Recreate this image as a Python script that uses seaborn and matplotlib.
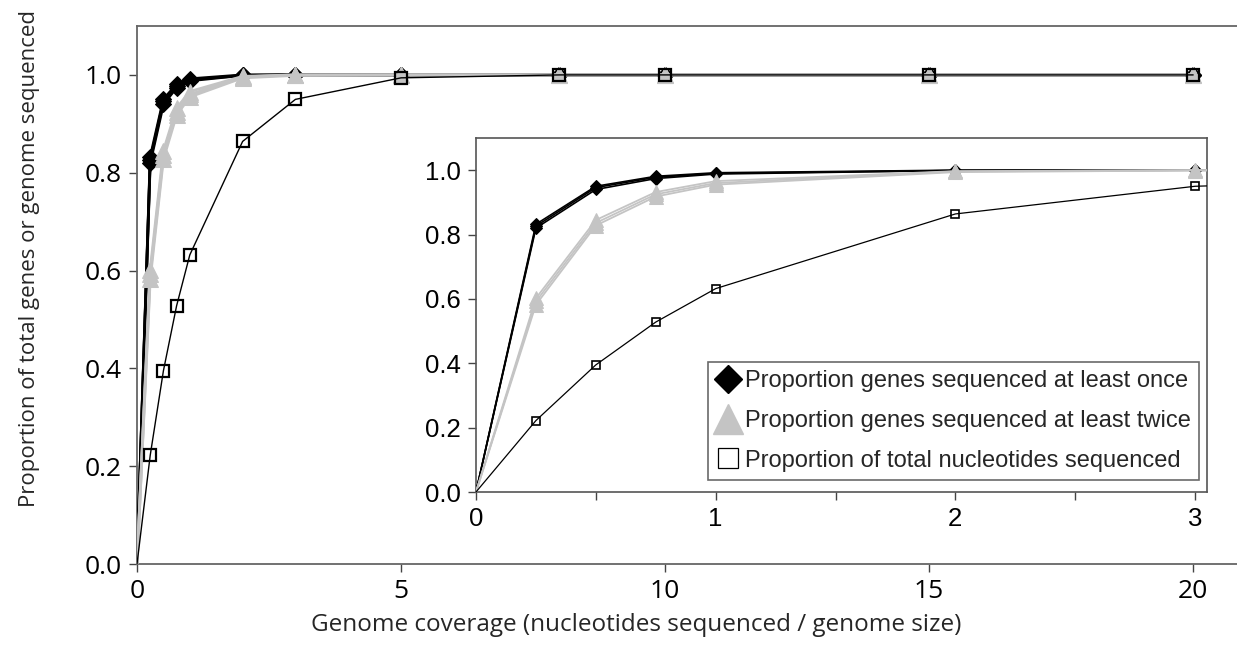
import numpy as np
import pandas as pd
import matplotlib
matplotlib.use("Agg")
import matplotlib.pyplot as plt
from matplotlib.lines import Line2D
import seaborn as sns

sns.set_style("white")
plt.rcParams['font.family'] = ['Open Sans', 'DejaVu Sans']

coverage = [0, 0.25, 0.5, 0.75, 1, 2, 3, 5, 8, 10, 15, 20]

genes_once = [
    [0, 0.820, 0.940, 0.974, 0.988, 0.999, 1.0, 1.0, 1.0, 1.0, 1.0, 1.0],
    [0, 0.826, 0.946, 0.978, 0.990, 0.999, 1.0, 1.0, 1.0, 1.0, 1.0, 1.0],
    [0, 0.832, 0.950, 0.981, 0.992, 1.000, 1.0, 1.0, 1.0, 1.0, 1.0, 1.0],
]
genes_twice = [
    [0, 0.582, 0.828, 0.918, 0.955, 0.994, 0.999, 1.0, 1.0, 1.0, 1.0, 1.0],
    [0, 0.592, 0.836, 0.925, 0.960, 0.996, 1.000, 1.0, 1.0, 1.0, 1.0, 1.0],
    [0, 0.602, 0.845, 0.932, 0.966, 0.997, 1.000, 1.0, 1.0, 1.0, 1.0, 1.0],
]
nucleotides = [0, 0.222, 0.395, 0.528, 0.632, 0.864, 0.950, 0.994, 1.0, 1.0, 1.0, 1.0]

labels = ["Proportion genes sequenced at least once",
          "Proportion genes sequenced at least twice",
          "Proportion of total nucleotides sequenced"]

GRAY = "#c4c4c4"

fig = plt.figure(figsize=(12.37, 6.49), dpi=100)
ax = fig.add_axes([137/1237, (649-564)/649, 1100/1237, 538/649])
axin = fig.add_axes([476/1237, (649-492)/649, 731/1237, 354/649])


def draw(a, big):
    ms_d, ms_t, ms_s = (8.2, 12, 8.5) if big else (6.2, 10, 5.5)
    lw_d, lw_t, lw_s = (2.0, 2.0, 1.0) if big else (1.2, 1.3, 0.9)
    for rep in genes_once:
        sns.lineplot(x=coverage, y=rep, ax=a, color="black", lw=lw_d,
                     marker="D", markersize=ms_d, markevery=slice(1, None),
                     markeredgecolor="black", estimator=None, errorbar=None,
                     zorder=3)
    for rep in genes_twice:
        sns.lineplot(x=coverage, y=rep, ax=a, color=GRAY, lw=lw_t,
                     marker="^", markersize=ms_t, markevery=slice(1, None),
                     markeredgecolor=GRAY, estimator=None, errorbar=None,
                     zorder=4)
    sns.lineplot(x=coverage, y=nucleotides, ax=a, color="black", lw=lw_s,
                 marker="s", markersize=ms_s, markevery=slice(1, None),
                 markerfacecolor="none", markeredgecolor="black",
                 markeredgewidth=1.6 if big else 1.2,
                 estimator=None, errorbar=None, zorder=5)


draw(ax, True)
draw(axin, False)

# main axes
ax.set_xlim(0, 20.83)
ax.set_ylim(0, 1.1)
ax.set_xticks([0, 5, 10, 15, 20])
ax.set_yticks([0, 0.2, 0.4, 0.6, 0.8, 1.0])
ax.set_yticklabels([f"{v:.1f}" for v in [0, 0.2, 0.4, 0.6, 0.8, 1.0]])
ax.tick_params(axis="both", direction="out", length=6, width=1, color="#444444",
               labelsize=19, labelcolor="black", bottom=True, left=True, pad=5)
for s in ["left", "bottom", "top"]:
    ax.spines[s].set_color("#666666")
    ax.spines[s].set_linewidth(1.3)
ax.spines["right"].set_visible(False)
ax.set_xlabel("Genome coverage (nucleotides sequenced / genome size)", fontsize=17.5)
ax.set_ylabel("Proportion of total genes or genome sequenced", fontsize=16)
ax.xaxis.set_label_coords(0.454, -0.092)
ax.yaxis.set_label_coords(-0.088, 0.568)

# inset axes
axin.set_xlim(0, 3.05)
axin.set_ylim(0, 1.1)
axin.set_xticks([0, 1, 2, 3])
axin.set_xticks([0.5, 1.5, 2.5], minor=True)
axin.set_yticks([0, 0.2, 0.4, 0.6, 0.8, 1.0])
axin.set_yticklabels([f"{v:.1f}" for v in [0, 0.2, 0.4, 0.6, 0.8, 1.0]])
axin.tick_params(axis="both", which="both", direction="out", length=6, width=1,
                 color="#444444", labelsize=18.5, labelcolor="black",
                 bottom=True, left=True, pad=5)
for lab in axin.get_xticklabels() + axin.get_yticklabels():
    lab.set_family(["Liberation Sans", "DejaVu Sans"])
for s in axin.spines.values():
    s.set_color("#555555")
    s.set_linewidth(1.2)
    s.set_visible(True)
axin.set_xlabel("")
axin.set_ylabel("")

handles = [
    Line2D([], [], ls="none", marker="D", markersize=14, color="black"),
    Line2D([], [], ls="none", marker="^", markersize=21, color=GRAY),
    Line2D([], [], ls="none", marker="s", markersize=14, markerfacecolor="white",
           markeredgecolor="black", markeredgewidth=0.9),
]
leg = axin.legend(handles, labels, loc="lower right", bbox_to_anchor=(0.989, 0.034),
                  prop={"family": ["Liberation Sans", "DejaVu Sans"], "size": 17},
                  frameon=True, fancybox=False, edgecolor="#444444",
                  handlelength=1.0, handletextpad=0.2, borderpad=0.35,
                  labelspacing=0.75, borderaxespad=0)
leg.get_frame().set_linewidth(1.2)

fig.savefig("out.png", dpi=100, facecolor="white")
